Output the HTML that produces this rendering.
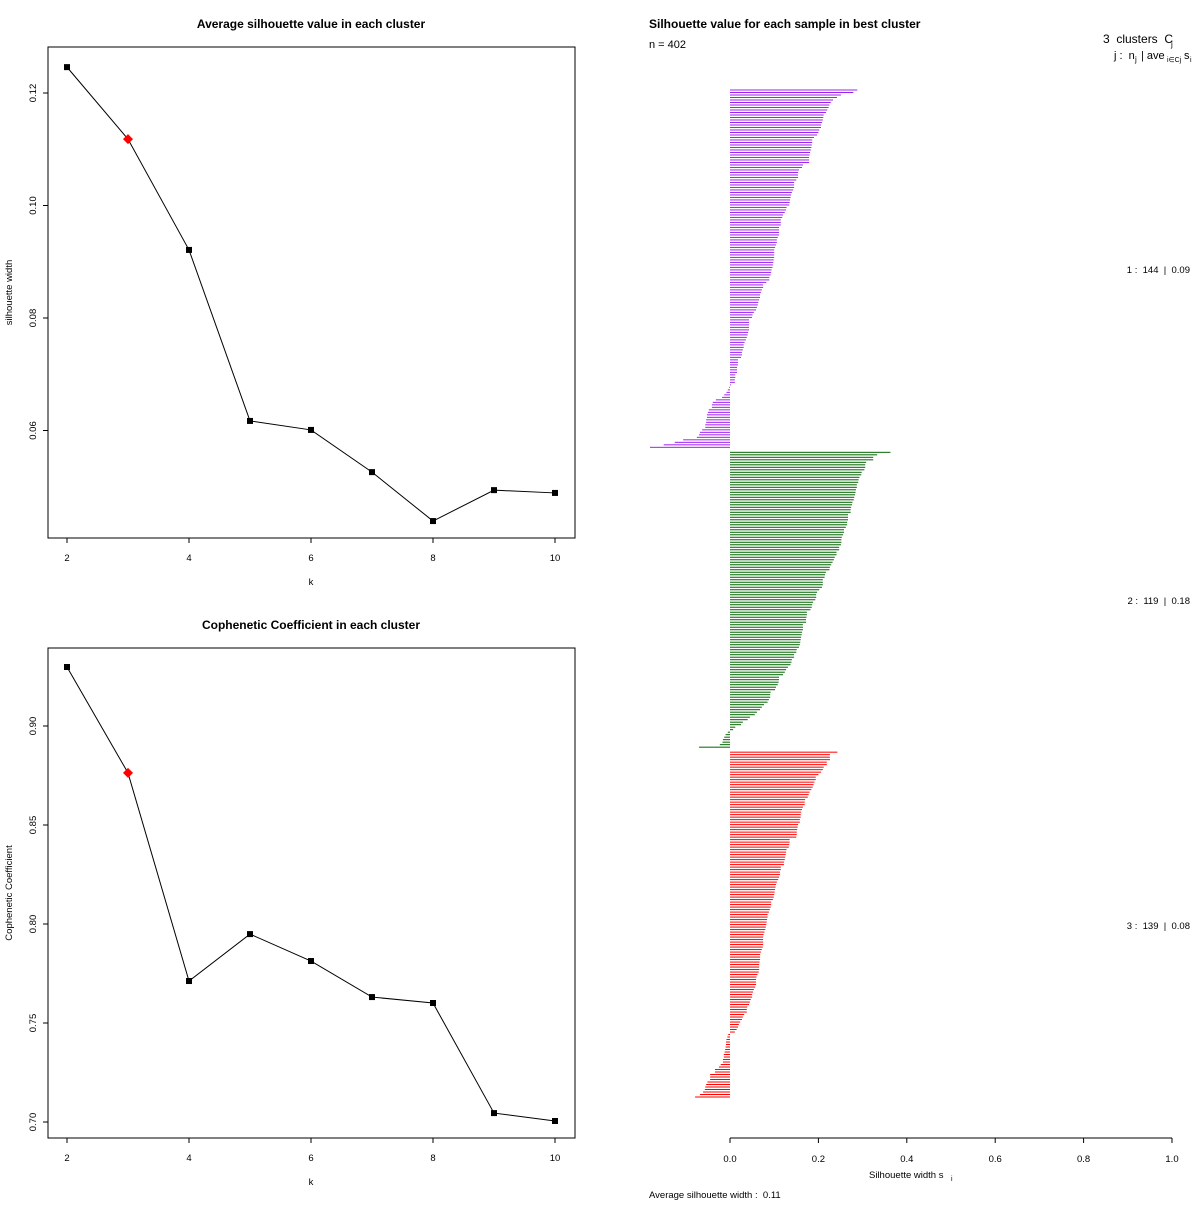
<!DOCTYPE html>
<html><head><meta charset="utf-8"><style>
body{margin:0;background:#fff;}
svg text{font-family:"Liberation Sans",sans-serif;fill:#000;white-space:pre;}
</style></head><body>
<svg id="svg" width="1200" height="1200" xmlns="http://www.w3.org/2000/svg">
<rect width="1200" height="1200" fill="#fff"/>
</svg>
<script>
const kValues=[2,3,4,5,6,7,8,9,10];
const silAvg=[0.1246,0.1118,0.0921,0.0617,0.0601,0.0526,0.0439,0.0494,0.0489];
const cophCoef=[0.9298,0.8763,0.7712,0.7949,0.7813,0.7631,0.7601,0.7045,0.7005];
const bestK=3;
const silTicks=[0.06,0.08,0.10,0.12];
const cophTicks=[0.70,0.75,0.80,0.85,0.90];
const kTicks=[2,4,6,8,10];
const clusterIds=[1,2,3];
const clusterSizes=[144,119,139];
const clusterAvg=["0.09","0.18","0.08"];
const clusterColors=["#a020f0","#006400","#ff0000"];
const c1=[0.288,0.279,0.251,0.242,0.233,0.228,0.225,0.223,0.220,0.217,0.212,0.211,0.210,0.208,0.206,0.206,0.202,0.200,0.197,0.190,0.186,0.186,0.185,0.184,0.183,0.181,0.180,0.179,0.179,0.179,0.165,0.163,0.156,0.154,0.154,0.154,0.150,0.145,0.145,0.145,0.143,0.140,0.138,0.137,0.136,0.135,0.134,0.128,0.127,0.124,0.120,0.118,0.115,0.115,0.115,0.111,0.111,0.111,0.111,0.108,0.106,0.106,0.104,0.102,0.100,0.100,0.100,0.100,0.099,0.098,0.097,0.096,0.094,0.093,0.092,0.089,0.089,0.082,0.075,0.075,0.072,0.070,0.068,0.068,0.066,0.064,0.063,0.061,0.059,0.054,0.051,0.050,0.043,0.043,0.043,0.043,0.043,0.041,0.040,0.038,0.036,0.033,0.031,0.031,0.029,0.027,0.027,0.025,0.018,0.018,0.018,0.016,0.016,0.016,0.012,0.012,0.011,0.011,0.002,
-0.002,-0.005,-0.008,-0.013,-0.018,-0.032,-0.039,-0.041,-0.041,-0.048,-0.050,-0.052,-0.052,-0.054,-0.054,-0.056,-0.056,-0.063,-0.068,-0.070,-0.075,-0.106,-0.125,-0.150,-0.181];
const c2=[0.363,0.333,0.324,0.324,0.308,0.306,0.306,0.304,0.298,0.297,0.293,0.291,0.290,0.287,0.287,0.285,0.284,0.283,0.281,0.280,0.277,0.276,0.274,0.273,0.273,0.267,0.267,0.267,0.265,0.265,0.262,0.258,0.258,0.256,0.253,0.252,0.252,0.251,0.247,0.247,0.241,0.241,0.237,0.235,0.232,0.229,0.226,0.225,0.217,0.215,0.214,0.210,0.210,0.210,0.208,0.202,0.197,0.195,0.195,0.193,0.188,0.186,0.185,0.182,0.174,0.174,0.173,0.172,0.172,0.165,0.165,0.165,0.163,0.162,0.161,0.160,0.159,0.158,0.156,0.151,0.150,0.145,0.145,0.140,0.139,0.137,0.131,0.127,0.124,0.120,0.111,0.111,0.110,0.108,0.104,0.102,0.092,0.091,0.091,0.088,0.085,0.077,0.072,0.068,0.061,0.056,0.045,0.040,0.029,0.025,0.012,0.007,
-0.005,-0.010,-0.013,-0.016,-0.017,-0.023,-0.070];
const c3=[0.243,0.226,0.226,0.226,0.219,0.219,0.212,0.210,0.206,0.200,0.194,0.194,0.191,0.189,0.187,0.184,0.180,0.178,0.176,0.170,0.169,0.169,0.165,0.163,0.161,0.160,0.160,0.158,0.158,0.154,0.153,0.152,0.151,0.151,0.150,0.135,0.135,0.134,0.133,0.128,0.127,0.126,0.125,0.124,0.122,0.122,0.115,0.115,0.113,0.113,0.111,0.109,0.106,0.104,0.103,0.102,0.101,0.100,0.099,0.097,0.093,0.093,0.092,0.090,0.088,0.085,0.085,0.084,0.083,0.082,0.081,0.080,0.078,0.076,0.075,0.075,0.075,0.075,0.074,0.072,0.070,0.068,0.068,0.068,0.067,0.066,0.066,0.066,0.065,0.062,0.060,0.059,0.059,0.059,0.057,0.054,0.052,0.050,0.050,0.047,0.045,0.043,0.039,0.038,0.038,0.032,0.029,0.027,0.023,0.020,0.018,0.015,0.011,
-0.004,-0.006,-0.008,-0.009,-0.009,-0.010,-0.011,-0.012,-0.014,-0.014,-0.016,-0.016,-0.021,-0.025,-0.034,-0.034,-0.045,-0.045,-0.045,-0.051,-0.054,-0.056,-0.057,-0.061,-0.068,-0.079];
const silWidthTicks=[0.0,0.2,0.4,0.6,0.8,1.0];
const nTotal=402, avgWidth="0.11";

const NS="http://www.w3.org/2000/svg";
const svg=document.getElementById('svg');
function mk(tag,attrs,parent){const e=document.createElementNS(NS,tag);for(const k in attrs)e.setAttribute(k,attrs[k]);(parent||svg).appendChild(e);return e;}
function txt(s,x,y,size,opts){const t=mk('text',Object.assign({x:x,y:y,'font-size':size},opts||{}));t.textContent=s;return t;}

function linePanel(name,title,titleY,box,yTicks,yScale,vals,ylab,dec){
  const g=mk('g',{});
  
  
  const xS=k=>67+(k-2)*61;
  mk('rect',{x:box[0],y:box[1],width:box[2]-box[0],height:box[3]-box[1],fill:'none',stroke:'#000','stroke-width':1},g);
  const t=txt(title,311,titleY,12,{'font-weight':'bold','text-anchor':'middle'});g.appendChild(t);
  
  kTicks.forEach(k=>{mk('line',{x1:xS(k),x2:xS(k),y1:box[3],y2:box[3]+5,stroke:'#000'},g);
    g.appendChild(txt(String(k),xS(k),box[3]+23,9.5,{'text-anchor':'middle'}));});
  const xl=txt('k',311,box[3]+47,9.5,{'text-anchor':'middle'});g.appendChild(xl);
  
  yTicks.forEach(v=>{const y=yScale(v);mk('line',{x1:box[0]-5,x2:box[0],y1:y,y2:y,stroke:'#000'},g);
    g.appendChild(txt(v.toFixed(dec),36,y,9.5,{'text-anchor':'middle',transform:`rotate(-90 36 ${y})`}));});
  const cy=(box[1]+box[3])/2;
  const yl=txt(ylab,12,cy,9.5,{'text-anchor':'middle',transform:`rotate(-90 12 ${cy})`});g.appendChild(yl);
  
  const pts=kValues.map((k,i)=>xS(k)+','+yScale(vals[i])).join(' ');
  const pl=mk('polyline',{points:pts,fill:'none',stroke:'#000','stroke-width':1},g);
  
  kValues.forEach((k,i)=>{const x=xS(k),y=yScale(vals[i]);
    if(k===bestK){const d=mk('polygon',{points:`${x},${y-5} ${x+5},${y} ${x},${y+5} ${x-5},${y}`,fill:'#f00'},g);
      }
    else{const r=mk('rect',{x:x-3,y:y-3,width:6,height:6,fill:'#000'},g);
      }});
}
linePanel('silhouette-panel','Average silhouette value in each cluster',28,[48,47,575,538],silTicks,v=>93+(0.12-v)/0.02*112.5,silAvg,'silhouette width',2);
linePanel('cophenetic-panel','Cophenetic Coefficient in each cluster',629,[48,648,575,1138],cophTicks,v=>726+(0.90-v)/0.05*99,cophCoef,'Cophenetic Coefficient',2);

const sg=mk('g',{});


const xB=v=>730+v*442;
const step=(1097-90)/403;
const clusters=[c1,c2,c3];
let idx=0;
clusters.forEach((arr,ci)=>{
  const startY=90+(idx+ci)*step;
  arr.forEach((v,j)=>{const y=90+(idx+ci+j)*step;
    const x0=Math.min(xB(0),xB(v)),w=Math.abs(xB(v)-xB(0));
    const r=mk('rect',{x:x0,y:y-0.5,width:Math.max(w,0.5),height:1.0,fill:clusterColors[ci]},sg);
    
    });
  const midY=startY+arr.length*step/2;
  const lb=txt(`${clusterIds[ci]} :  ${clusterSizes[ci]}  |  ${clusterAvg[ci]}`,1190,midY+3,9.5,{'text-anchor':'end'});sg.appendChild(lb);
  
  
  idx+=arr.length;
});
mk('line',{x1:730,x2:1172,y1:1138,y2:1138,stroke:'#000'},sg);
silWidthTicks.forEach(v=>{mk('line',{x1:xB(v),x2:xB(v),y1:1138,y2:1143,stroke:'#000'},sg);
  sg.appendChild(txt(v.toFixed(1),xB(v),1162,9.5,{'text-anchor':'middle'}));});
const t1=txt('Silhouette value for each sample in best cluster',649,28,12,{'font-weight':'bold'});

const t2=txt('n = '+nTotal,649,48,11);
const t3=txt('3  clusters  C',1103,43,12);
txt('j',1171,47,8);
const t4=txt('j :  n',1114,59,11);
txt('j',1135,62,8);txt('| ave',1141,59,11);txt('i∈Cj',1167,62,7);txt('s',1184,59,11);txt('i',1190,62,7);
const t5=txt('Silhouette width s',869,1178,9.5);
txt('i',951,1181,7);
const t6=txt('Average silhouette width :  '+avgWidth,649,1198,9.5);

</script>
</body></html>
